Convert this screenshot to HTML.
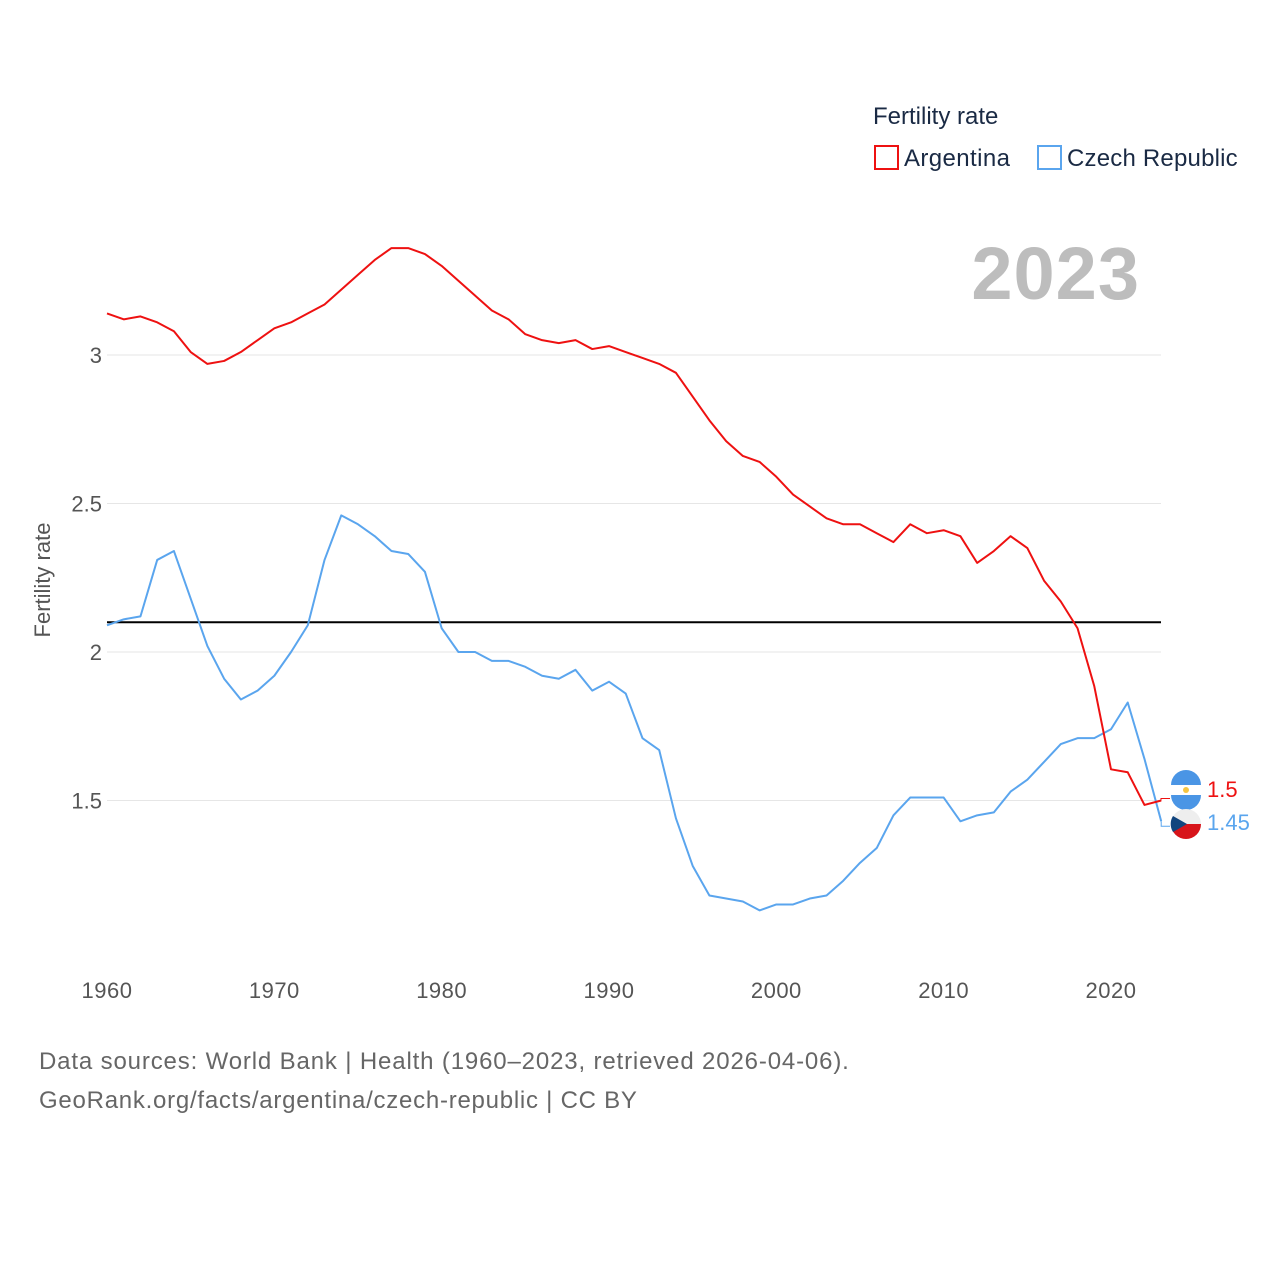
<!DOCTYPE html>
<html><head><meta charset="utf-8"><style>
body{margin:0;background:#fff;font-family:"Liberation Sans",sans-serif}
svg text{font-family:"Liberation Sans",sans-serif}
</style></head><body>
<svg id="chart" width="1280" height="1280" xmlns="http://www.w3.org/2000/svg">
<text x="873" y="124" font-size="24" fill="#1a2a44">Fertility rate</text>
<g><rect x="875" y="146" width="23" height="23" fill="none" stroke="#ee1111" stroke-width="2"/><text x="904" y="166" font-size="24" fill="#1a2a44" letter-spacing="0.4">Argentina</text></g>
<g><rect x="1038" y="146" width="23" height="23" fill="none" stroke="#5aa5ee" stroke-width="2"/><text x="1067" y="166" font-size="24" fill="#1a2a44" letter-spacing="0.2">Czech Republic</text></g>
<text x="1140" y="299" font-size="74" font-weight="bold" fill="#bdbdbd" text-anchor="end" letter-spacing="1">2023</text>
<text transform="translate(50,580) rotate(-90)" font-size="22" fill="#555" text-anchor="middle">Fertility rate</text>
<g id="grid"></g><g id="series"></g>
<text x="39" y="1069" font-size="24" fill="#666" letter-spacing="0.85">Data sources: World Bank | Health (1960–2023, retrieved 2026-04-06).</text>
<text x="39" y="1108" font-size="24" fill="#666" letter-spacing="0.75">GeoRank.org/facts/argentina/czech-republic | CC BY</text>
</svg>
<script>
const years=[];for(let y=1960;y<=2023;y++)years.push(y);
const argentina=[3.14,3.12,3.13,3.11,3.08,3.01,2.97,2.98,3.01,3.05,3.09,3.11,3.14,3.17,3.22,3.27,3.32,3.36,3.36,3.34,3.30,3.25,3.20,3.15,3.12,3.07,3.05,3.04,3.05,3.02,3.03,3.01,2.99,2.97,2.94,2.86,2.78,2.71,2.66,2.64,2.59,2.53,2.49,2.45,2.43,2.43,2.40,2.37,2.43,2.40,2.41,2.39,2.30,2.34,2.39,2.35,2.24,2.17,2.08,1.885,1.605,1.595,1.485,1.50];
const czech=[2.09,2.11,2.12,2.31,2.34,2.18,2.02,1.91,1.84,1.87,1.92,2.00,2.09,2.31,2.46,2.43,2.39,2.34,2.33,2.27,2.08,2.00,2.00,1.97,1.97,1.95,1.92,1.91,1.94,1.87,1.90,1.86,1.71,1.67,1.44,1.28,1.18,1.17,1.16,1.13,1.15,1.15,1.17,1.18,1.23,1.29,1.34,1.45,1.51,1.51,1.51,1.43,1.45,1.46,1.53,1.57,1.63,1.69,1.71,1.71,1.74,1.83,1.64,1.43];
const yTicks=[1.5,2,2.5,3];
const xTicks=[1960,1970,1980,1990,2000,2010,2020];
const refValue=2.1;
const NS="http://www.w3.org/2000/svg";
const X=y=>107+(y-1960)*(1111-107)/60;
const Y=v=>355+(3-v)*297;
const grid=document.getElementById('grid'),ser=document.getElementById('series');
function mk(tag,attrs,parent){const e=document.createElementNS(NS,tag);for(const k in attrs)e.setAttribute(k,attrs[k]);parent.appendChild(e);return e;}
yTicks.forEach(t=>{
 const l=mk('line',{x1:107,x2:1161,y1:Y(t),y2:Y(t),stroke:'#e6e6e6','stroke-width':1},grid);
 
 
 const tx=mk('text',{x:102,y:Y(t)+8,'font-size':22,fill:'#555','text-anchor':'end'},grid);tx.textContent=String(t);
 
 
});
xTicks.forEach(t=>{
 const tx=mk('text',{x:X(t),y:998,'font-size':22,fill:'#555','text-anchor':'middle','letter-spacing':0.5},grid);tx.textContent=String(t);
 
 
});
const ref=mk('line',{x1:107,x2:1161,y1:Y(refValue),y2:Y(refValue),stroke:'#000','stroke-width':2},ser);


function line(d,c,n){const p=mk('polyline',{points:d.map((v,i)=>X(years[i])+','+Y(v)).join(' '),fill:'none',stroke:c,'stroke-width':2,'stroke-linejoin':'round'},ser);
 
 }
line(czech,'#5aa5ee','czech-republic-line');
line(argentina,'#ee1111','argentina-line');
const la=argentina[argentina.length-1],lc=czech[czech.length-1];
const ya=Y(la)-12,yc=Y(lc)+4;
mk('path',{d:`M${X(2023)} ${Y(la)} H1161 V${ya+10} H1170`,fill:'none',stroke:'#ee1111','stroke-width':1},ser);
mk('path',{d:`M${X(2023)} ${Y(lc)} V${yc+1} H1170`,fill:'none',stroke:'#5aa5ee','stroke-width':1},ser);
const fa=mk('g',{},ser);


mk('circle',{cx:1186,cy:790,r:15,fill:'#fff'},fa);
mk('path',{d:'M1171 785 A15 15 0 0 1 1201 785 Z',fill:'#4a95e5'},fa);
mk('path',{d:'M1171 795 A15 15 0 0 0 1201 795 Z',fill:'#4a95e5'},fa);
mk('circle',{cx:1186,cy:790,r:3,fill:'#f5c542'},fa);
const fc=mk('g',{},ser);


mk('path',{d:'M1171 824 A15 15 0 0 1 1201 824 Z',fill:'#eee'},fc);
mk('path',{d:'M1171 824 A15 15 0 0 0 1201 824 Z',fill:'#d7141a'},fc);
mk('path',{d:'M1173 816 L1187 824 L1173 832 A15 15 0 0 1 1173 816 Z',fill:'#11457e'},fc);
const ta=mk('text',{x:1207,y:797,'font-size':22,fill:'#ee1111'},ser);ta.textContent=String(la);


const tc=mk('text',{x:1207,y:830,'font-size':22,fill:'#5aa5ee'},ser);tc.textContent='1.45';


</script>
</body></html>
